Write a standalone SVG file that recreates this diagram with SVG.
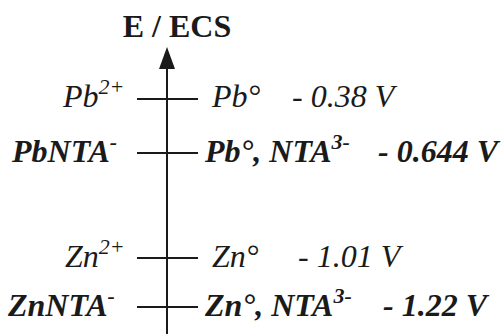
<svg xmlns="http://www.w3.org/2000/svg" width="503" height="334" viewBox="0 0 503 334">
<style>
.i{font-style:italic}
.b{font-weight:bold;font-style:italic}
.t{font-weight:bold}
.sup{font-size:22px}
line{stroke:#1a1a1a;stroke-width:2}
</style>
<rect width="503" height="334" fill="#fff"/>
<g font-family="Liberation Serif, DejaVu Serif, serif" font-size="32" fill="#1a1a1a">
<g id="axis">
<line x1="167" y1="66" x2="167" y2="334"/>
<polygon points="167,47 159,69 175,69" fill="#1a1a1a"/>
<text class="t" x="177" y="37" text-anchor="middle">E / ECS</text>
</g>
<g id="connectors">
<line x1="137" y1="99" x2="198" y2="99"/>
<line x1="137" y1="153" x2="198" y2="153"/>
<line x1="137" y1="258" x2="198" y2="258"/>
<line x1="137" y1="307" x2="198" y2="307"/>
</g>
<g id="pb2">
<text class="i" x="63" y="107">Pb<tspan class="sup" dy="-13">2+</tspan></text>
<text class="i" x="212" y="107">Pb°</text>
<text class="i" x="292" y="107">- 0.38 V</text>
</g>
<g id="pbnta">
<text class="b" x="12" y="162">PbNTA<tspan class="sup" dy="-13">-</tspan></text>
<text class="b" x="205" y="162">Pb°, NTA<tspan class="sup" dy="-13">3-</tspan></text>
<text class="b" x="378" y="162">- 0.644 V</text>
</g>
<g id="zn2">
<text class="i" x="65" y="267">Zn<tspan class="sup" dy="-13">2+</tspan></text>
<text class="i" x="212" y="267">Zn°</text>
<text class="i" x="298" y="267">- 1.01 V</text>
</g>
<g id="znnta">
<text class="b" x="8" y="316">ZnNTA<tspan class="sup" dy="-13">-</tspan></text>
<text class="b" x="205" y="316">Zn°, NTA<tspan class="sup" dy="-13">3-</tspan></text>
<text class="b" x="383" y="316">- 1.22 V</text>
</g>
</g>
</svg>
